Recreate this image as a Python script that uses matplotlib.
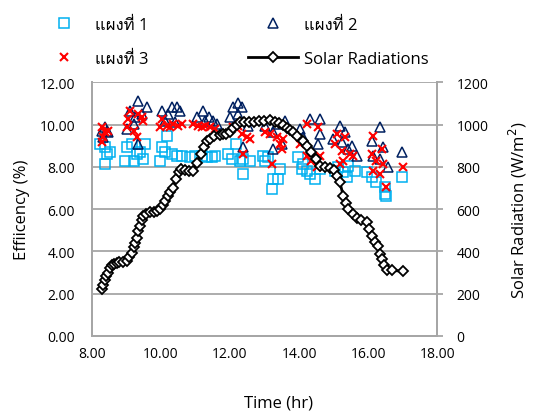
import matplotlib
matplotlib.use("Agg")
import matplotlib.pyplot as plt
from matplotlib import font_manager, ft2font

# time (hr) / efficiency (%) for each panel
p1_time = [8.24, 8.39, 8.53, 8.39, 8.43,
           9.01, 9.16, 9.54, 9.40, 8.96, 9.21, 9.49, 9.30,
           10.03, 10.17, 9.98, 10.31, 10.46, 10.60, 10.12,
           10.99, 11.18, 11.33, 11.57, 10.84, 11.47,
           11.95, 12.19, 12.39, 12.58, 12.39, 12.05, 12.29,
           12.97, 13.11, 13.40, 13.26, 13.21, 13.01, 13.45,
           13.98, 14.12, 14.22, 14.32, 14.46, 14.61, 14.08,
           15.14, 15.28, 15.43, 15.04, 15.62, 15.38,
           15.96, 16.10, 16.24, 16.49, 16.53, 16.49,
           16.97]
p1_eff = [9.08, 8.92, 8.69, 8.13, 8.61,
          8.92, 9.08, 9.08, 8.69, 8.29, 8.29, 8.37, 8.61,
          8.92, 9.47, 8.29, 8.61, 8.53, 8.53, 8.69,
          8.53, 8.53, 8.45, 8.53, 8.45, 8.45,
          8.61, 9.08, 8.37, 8.29, 7.66, 8.37, 8.29,
          8.53, 8.45, 7.42, 7.42, 6.95, 8.29, 7.90,
          8.45, 8.13, 7.82, 7.66, 7.42, 7.90, 7.90,
          7.98, 7.74, 8.06, 7.82, 7.82, 7.50,
          7.74, 7.50, 7.27, 7.03, 6.64, 6.72,
          7.50]

p2_time = [8.39, 8.43, 8.29, 8.48, 8.34,
           9.35, 9.59, 9.11, 9.21, 9.01, 9.35, 9.45, 9.25,
           10.03, 10.31, 10.46, 10.56, 10.22, 10.12, 10.41,
           11.23, 11.38, 11.52, 11.04, 11.62, 11.28,
           12.24, 12.10, 12.00, 12.24, 12.34, 12.39, 12.53,
           13.01, 13.26, 13.35, 13.59, 13.26, 13.50,
           14.03, 14.32, 14.61, 14.12, 14.56, 14.61, 14.36,
           15.18, 15.33, 14.99, 15.52, 15.43, 15.23, 15.67,
           16.34, 16.10, 16.44, 16.58, 16.15, 16.34,
           16.97]
p2_eff = [9.87, 9.71, 9.71, 9.63, 9.40,
          11.13, 10.81, 10.65, 10.02, 9.79, 9.08, 10.50, 10.34,
          10.65, 10.81, 10.81, 10.65, 10.50, 10.18, 10.10,
          10.65, 10.34, 10.18, 10.34, 10.02, 10.18,
          11.00, 10.81, 10.34, 10.50, 10.81, 8.92, 9.94,
          9.94, 9.63, 10.02, 10.18, 8.84, 9.08,
          9.79, 10.26, 10.26, 9.40, 9.08, 9.55, 8.77,
          9.94, 9.63, 9.32, 9.00, 8.84, 9.16, 8.53,
          9.87, 9.24, 8.92, 7.98, 8.53, 8.37,
          8.69]

p3_time = [8.29, 8.39, 8.48, 8.29, 8.34,
           9.11, 9.35, 9.49, 9.01, 9.21, 9.30, 9.45, 9.06,
           10.03, 9.98, 10.17, 10.36, 10.51, 10.27, 10.60,
           10.94, 11.09, 11.28, 11.42, 11.57, 11.18,
           12.10, 12.34, 12.48, 12.39, 12.24, 12.58,
           13.01, 13.16, 13.35, 13.45, 13.50, 13.21, 13.54,
           14.22, 14.56, 14.03, 14.22, 14.36, 14.51, 14.61,
           15.09, 15.33, 15.04, 15.23, 15.47, 15.28, 15.57, 15.18,
           16.15, 16.39, 16.10, 16.24, 16.44, 16.15, 16.53, 16.34,
           17.00]
p3_eff = [9.87, 9.63, 9.71, 9.16, 9.40,
          10.65, 10.50, 10.18, 9.87, 9.71, 9.40, 10.34, 10.26,
          10.26, 9.87, 9.94, 10.02, 9.94, 9.87, 10.02,
          10.02, 9.94, 9.94, 9.87, 9.79, 9.87,
          9.87, 9.55, 9.40, 8.61, 9.94, 9.32,
          9.63, 9.55, 9.40, 9.08, 8.84, 8.13, 9.32,
          10.02, 9.87, 9.08, 8.53, 8.29, 7.98, 8.53,
          9.55, 9.40, 9.08, 8.77, 8.61, 8.29, 8.53, 8.13,
          9.47, 8.84, 8.61, 8.29, 8.13, 7.82, 7.03, 7.66,
          7.98]

# solar radiation (W/m2)
sr_time = [8.29, 8.33, 8.38, 8.42, 8.47, 8.53, 8.60, 8.66, 8.72, 8.80,
           8.90, 9.01, 9.08, 9.16, 9.21, 9.25, 9.30, 9.35, 9.40, 9.45,
           9.49, 9.58, 9.69, 9.80, 9.90, 9.98, 10.05, 10.12, 10.20, 10.28,
           10.36, 10.45, 10.52, 10.58, 10.70, 10.82, 10.94, 11.05, 11.15, 11.25,
           11.35, 11.42, 11.55, 11.70, 11.80, 11.90, 12.00, 12.10, 12.20, 12.29,
           12.40, 12.55, 12.70, 12.85, 13.00, 13.16, 13.30, 13.42, 13.54, 13.65,
           13.75, 13.83, 13.95, 14.10, 14.22, 14.35, 14.48, 14.61, 14.75, 14.90,
           15.00, 15.10, 15.18, 15.28, 15.35, 15.42, 15.55, 15.67, 15.80, 15.96,
           16.03, 16.10, 16.20, 16.29, 16.35, 16.39, 16.45, 16.54, 16.70, 17.02]
sr_val = [222, 240, 267, 285, 300, 322, 335, 342, 346, 350,
          352, 354, 372, 394, 420, 441, 465, 495, 520, 548,
          568, 578, 584, 588, 592, 600, 620, 640, 662, 680,
          700, 740, 775, 790, 785, 782, 782, 820, 860, 895,
          920, 933, 945, 950, 955, 957, 965, 985, 1000, 1010,
          1010, 1012, 1013, 1015, 1018, 1020, 1012, 1005, 997, 985,
          975, 963, 945, 920, 900, 870, 835, 806, 800, 795,
          785, 755, 727, 663, 630, 600, 578, 560, 548, 537,
          505, 473, 445, 425, 390, 362, 335, 314, 310, 306]

legend_labels = ['แผงที่ 1', 'แผงที่ 2', 'แผงที่ 3', 'Solar Radiations']


def find_thai_font():
    for f in font_manager.fontManager.ttflist:
        try:
            cm = ft2font.FT2Font(f.fname).get_charmap()
        except Exception:
            continue
        if 0x0E41 in cm and 0x0E1C in cm:
            return f.name
    return None


thai = find_thai_font()
fams = ['Open Sans'] + ([thai] if thai else []) + ['DejaVu Sans']
plt.rcParams['font.family'] = fams

GRAY = '#a6a6a6'

fig = plt.figure(figsize=(5.34, 4.14), dpi=100)
ax = fig.add_axes([0.1717, 0.186, 0.6472, 0.613])
ax2 = ax.twinx()

h1, = ax.plot(p1_time, p1_eff, ls='none', marker='s', ms=6.5, mfc='none',
              mec='#00b0f0', mew=1.1)
h2, = ax.plot(p2_time, p2_eff, ls='none', marker='^', ms=7.5, mfc='none',
              mec='#002060', mew=1.1)
h3, = ax.plot(p3_time, p3_eff, ls='none', marker='x', ms=5.5, color='#ff0000',
              mew=1.5)
h4, = ax2.plot(sr_time, sr_val, color='black', lw=2, marker='D', ms=5.5,
               mfc='white', mec='black', mew=1.3)

ax.set_xlim(8, 18)
ax.set_ylim(0, 12)
ax2.set_ylim(0, 1200)
ax.set_xticks([8, 10, 12, 14, 16, 18])
ax.set_xticklabels(['%.2f' % v for v in [8, 10, 12, 14, 16, 18]])
ax.set_yticks(range(0, 13, 2))
ax.set_yticklabels(['%.2f' % v for v in range(0, 13, 2)])
ax2.set_yticks(range(0, 1201, 200))

ax.grid(axis='y', color=GRAY, lw=1.3)
ax.set_axisbelow(True)
for a in (ax, ax2):
    for s in a.spines.values():
        s.set_color(GRAY)
        s.set_linewidth(1.3)
    a.spines['top'].set_visible(False)
ax.tick_params(axis='both', length=0, labelsize=10, pad=12, colors='black')
ax.tick_params(axis='x', pad=7)
ax2.tick_params(axis='y', length=4, width=1.3, color=GRAY, labelsize=10, pad=10)

ax.set_ylabel('Effiicency (%)', fontsize=12, labelpad=7)
ax2.set_ylabel('Solar Radiation (W/m$^2$)', fontsize=12, labelpad=13)
fig.text(278 / 534, 1 - 404 / 414, 'Time (hr)', ha='center', va='center',
         fontsize=12)

# two legend columns placed separately
leg_kw = dict(frameon=False, loc='upper left', fontsize=12, handlelength=3.0,
              labelspacing=1.05, handletextpad=0.35, borderpad=0,
              borderaxespad=0)
fig.legend([h1, h3], [legend_labels[0], legend_labels[2]],
           bbox_to_anchor=(39 / 534, 1 - 18 / 414), **leg_kw)
fig.legend([h2, h4], [legend_labels[1], legend_labels[3]],
           bbox_to_anchor=(248 / 534, 1 - 18 / 414), **leg_kw)

fig.savefig('out.png', dpi=100)
